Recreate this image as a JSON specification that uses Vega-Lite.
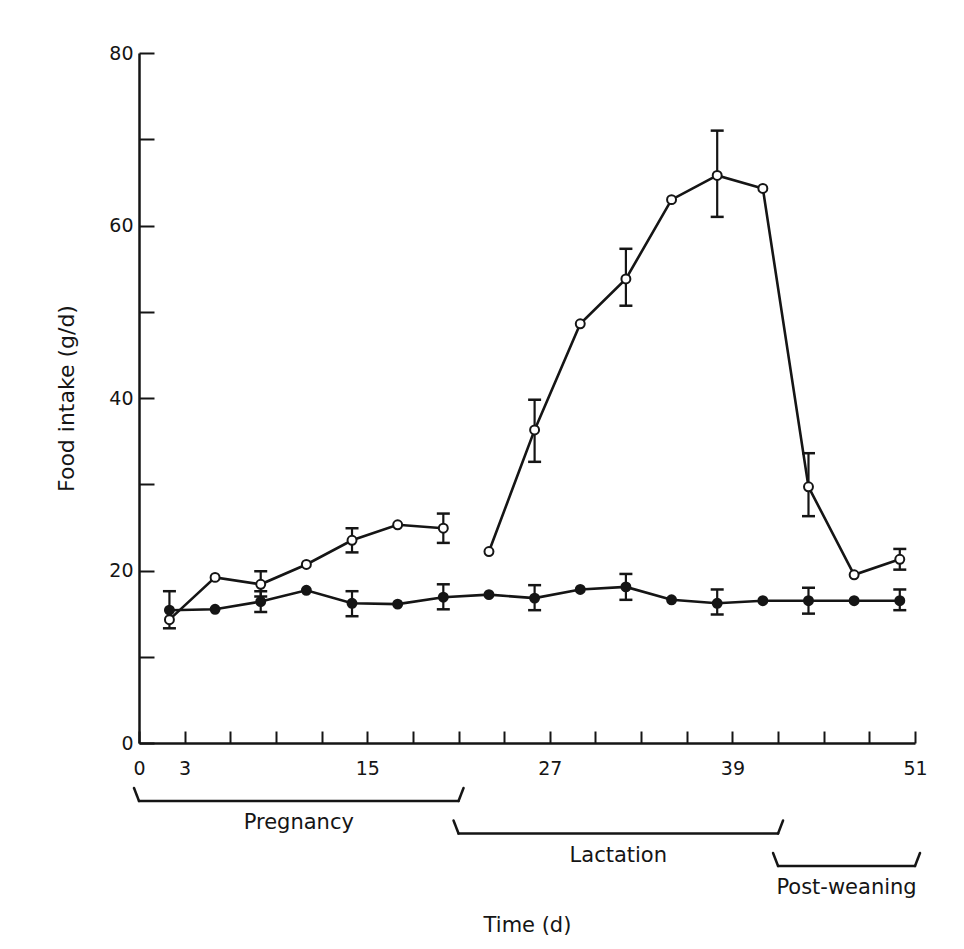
{
  "$schema": "https://vega.github.io/schema/vega-lite/v6.json",
  "background": "white",
  "padding": {"left": 55, "top": 44, "right": 10, "bottom": 5},
  "bounds": "flush",
  "spacing": 58,
  "config": {
    "font": "DejaVu Sans",
    "view": {"stroke": null},
    "axis": {"grid": false, "domainColor": "#151515", "tickColor": "#151515", "labelColor": "#151515", "titleColor": "#151515", "labelFont": "DejaVu Sans", "titleFont": "DejaVu Sans", "titleFontWeight": "normal"}
  },
  "datasets": {
    "intake": [
      {"day": 2, "group": "Breeding", "seg": "Breeding pregnancy", "intake": 14.3},
      {"day": 5, "group": "Breeding", "seg": "Breeding pregnancy", "intake": 19.2},
      {"day": 8, "group": "Breeding", "seg": "Breeding pregnancy", "intake": 18.4, "lo": 17.0, "hi": 19.9},
      {"day": 11, "group": "Breeding", "seg": "Breeding pregnancy", "intake": 20.7},
      {"day": 14, "group": "Breeding", "seg": "Breeding pregnancy", "intake": 23.5, "lo": 22.1, "hi": 24.9},
      {"day": 17, "group": "Breeding", "seg": "Breeding pregnancy", "intake": 25.3},
      {"day": 20, "group": "Breeding", "seg": "Breeding pregnancy", "intake": 24.9, "lo": 23.2, "hi": 26.6},
      {"day": 23, "group": "Breeding", "seg": "Breeding lactation", "intake": 22.2},
      {"day": 26, "group": "Breeding", "seg": "Breeding lactation", "intake": 36.3, "lo": 32.6, "hi": 39.8},
      {"day": 29, "group": "Breeding", "seg": "Breeding lactation", "intake": 48.6},
      {"day": 32, "group": "Breeding", "seg": "Breeding lactation", "intake": 53.8, "lo": 50.7, "hi": 57.3},
      {"day": 35, "group": "Breeding", "seg": "Breeding lactation", "intake": 63.0},
      {"day": 38, "group": "Breeding", "seg": "Breeding lactation", "intake": 65.8, "lo": 61.0, "hi": 71.0},
      {"day": 41, "group": "Breeding", "seg": "Breeding lactation", "intake": 64.3},
      {"day": 44, "group": "Breeding", "seg": "Breeding lactation", "intake": 29.7, "lo": 26.3, "hi": 33.6},
      {"day": 47, "group": "Breeding", "seg": "Breeding lactation", "intake": 19.5},
      {"day": 50, "group": "Breeding", "seg": "Breeding lactation", "intake": 21.3, "lo": 20.1, "hi": 22.5},
      {"day": 2, "group": "Control", "seg": "Control", "intake": 15.4, "lo": 13.3, "hi": 17.6},
      {"day": 5, "group": "Control", "seg": "Control", "intake": 15.5},
      {"day": 8, "group": "Control", "seg": "Control", "intake": 16.4, "lo": 15.2, "hi": 17.6},
      {"day": 11, "group": "Control", "seg": "Control", "intake": 17.7},
      {"day": 14, "group": "Control", "seg": "Control", "intake": 16.2, "lo": 14.7, "hi": 17.6},
      {"day": 17, "group": "Control", "seg": "Control", "intake": 16.1},
      {"day": 20, "group": "Control", "seg": "Control", "intake": 16.9, "lo": 15.5, "hi": 18.4},
      {"day": 23, "group": "Control", "seg": "Control", "intake": 17.2},
      {"day": 26, "group": "Control", "seg": "Control", "intake": 16.8, "lo": 15.4, "hi": 18.3},
      {"day": 29, "group": "Control", "seg": "Control", "intake": 17.8},
      {"day": 32, "group": "Control", "seg": "Control", "intake": 18.1, "lo": 16.6, "hi": 19.6},
      {"day": 35, "group": "Control", "seg": "Control", "intake": 16.6},
      {"day": 38, "group": "Control", "seg": "Control", "intake": 16.2, "lo": 14.9, "hi": 17.8},
      {"day": 41, "group": "Control", "seg": "Control", "intake": 16.5},
      {"day": 44, "group": "Control", "seg": "Control", "intake": 16.5, "lo": 15.0, "hi": 18.0},
      {"day": 47, "group": "Control", "seg": "Control", "intake": 16.5},
      {"day": 50, "group": "Control", "seg": "Control", "intake": 16.5, "lo": 15.4, "hi": 17.8}
    ],
    "phases": [
      {"phase": "Pregnancy", "start": 0, "end": 21},
      {"phase": "Lactation", "start": 21, "end": 42},
      {"phase": "Post-weaning", "start": 42, "end": 51}
    ]
  },
  "vconcat": [
    {
      "width": 776,
      "height": 690,
      "data": {"name": "intake"},
      "encoding": {
        "x": {
          "field": "day", "type": "quantitative",
          "scale": {"domain": [0, 51], "nice": false, "zero": false},
          "axis": {
            "values": [0, 3, 6, 9, 12, 15, 18, 21, 24, 27, 30, 33, 36, 39, 42, 45, 48, 51],
            "labelExpr": "indexof([0, 3, 15, 27, 39, 51], datum.value) >= 0 ? datum.label : ''",
            "tickSize": -12, "tickWidth": 2, "domainWidth": 2.5,
            "labelFontSize": 19, "labelPadding": 28, "labelFlush": false, "labelOverlap": false,
            "title": null
          }
        },
        "y": {
          "field": "intake", "type": "quantitative",
          "scale": {"domain": [0, 80], "nice": false},
          "axis": {
            "values": [0, 10, 20, 30, 40, 50, 60, 70, 80],
            "labelExpr": "datum.value % 20 == 0 ? datum.label : ''",
            "tickSize": -15, "tickWidth": 2, "domainWidth": 2.5,
            "labelFontSize": 19, "labelPadding": 21, "labelFlush": false, "labelOverlap": false,
            "title": "Food intake (g/d)", "titleFontSize": 22, "titlePadding": 30
          }
        }
      },
      "layer": [
        {
          "mark": {"type": "line", "color": "#151515", "strokeWidth": 2.6},
          "encoding": {"detail": {"field": "seg"}}
        },
        {
          "transform": [{"filter": "isValid(datum.hi)"}],
          "mark": {"type": "rule", "color": "#151515", "strokeWidth": 2.2},
          "encoding": {"y": {"field": "lo", "type": "quantitative"}, "y2": {"field": "hi"}}
        },
        {
          "transform": [{"filter": "isValid(datum.hi)"}],
          "mark": {"type": "tick", "orient": "horizontal", "color": "#151515", "size": 13, "thickness": 2.5, "opacity": 1},
          "encoding": {"y": {"field": "hi", "type": "quantitative"}}
        },
        {
          "transform": [{"filter": "isValid(datum.lo)"}],
          "mark": {"type": "tick", "orient": "horizontal", "color": "#151515", "size": 13, "thickness": 2.5, "opacity": 1},
          "encoding": {"y": {"field": "lo", "type": "quantitative"}}
        },
        {
          "mark": {"type": "point", "filled": true, "size": 80, "stroke": "#151515", "strokeWidth": 2, "opacity": 1},
          "encoding": {
            "fill": {"field": "group", "type": "nominal", "scale": {"domain": ["Breeding", "Control"], "range": ["white", "#151515"]}, "legend": null}
          }
        }
      ]
    },
    {
      "width": 776,
      "height": 65,
      "data": {"name": "phases"},
      "encoding": {
        "y": {"field": "phase", "type": "nominal", "scale": {"type": "point", "domain": ["Pregnancy", "Lactation", "Post-weaning"], "padding": 0}, "axis": null}
      },
      "layer": [
        {
          "mark": {"type": "rule", "color": "#151515", "strokeWidth": 2.5, "strokeCap": "round"},
          "encoding": {
            "x": {"field": "start", "type": "quantitative", "scale": {"domain": [0, 51], "nice": false, "zero": false},
              "axis": {"domain": false, "ticks": false, "labels": false, "title": "Time (d)", "titleFontSize": 21, "titlePadding": 48}},
            "x2": {"field": "end"}
          }
        },
        {
          "mark": {"type": "rule", "color": "#151515", "strokeWidth": 2.5, "strokeCap": "round", "x2Offset": -5, "y2Offset": -13},
          "encoding": {
            "x": {"field": "start", "type": "quantitative"},
            "x2": {"field": "start"},
            "y2": {"field": "phase"}
          }
        },
        {
          "mark": {"type": "rule", "color": "#151515", "strokeWidth": 2.5, "strokeCap": "round", "x2Offset": 5, "y2Offset": -13},
          "encoding": {
            "x": {"field": "end", "type": "quantitative"},
            "x2": {"field": "end"},
            "y2": {"field": "phase"}
          }
        },
        {
          "transform": [{"calculate": "(datum.start + datum.end) / 2", "as": "mid"}],
          "mark": {"type": "text", "fontSize": 21, "color": "#151515", "baseline": "middle", "align": "center", "dy": 22},
          "encoding": {
            "x": {"field": "mid", "type": "quantitative"},
            "text": {"field": "phase"}
          }
        }
      ]
    }
  ]
}
